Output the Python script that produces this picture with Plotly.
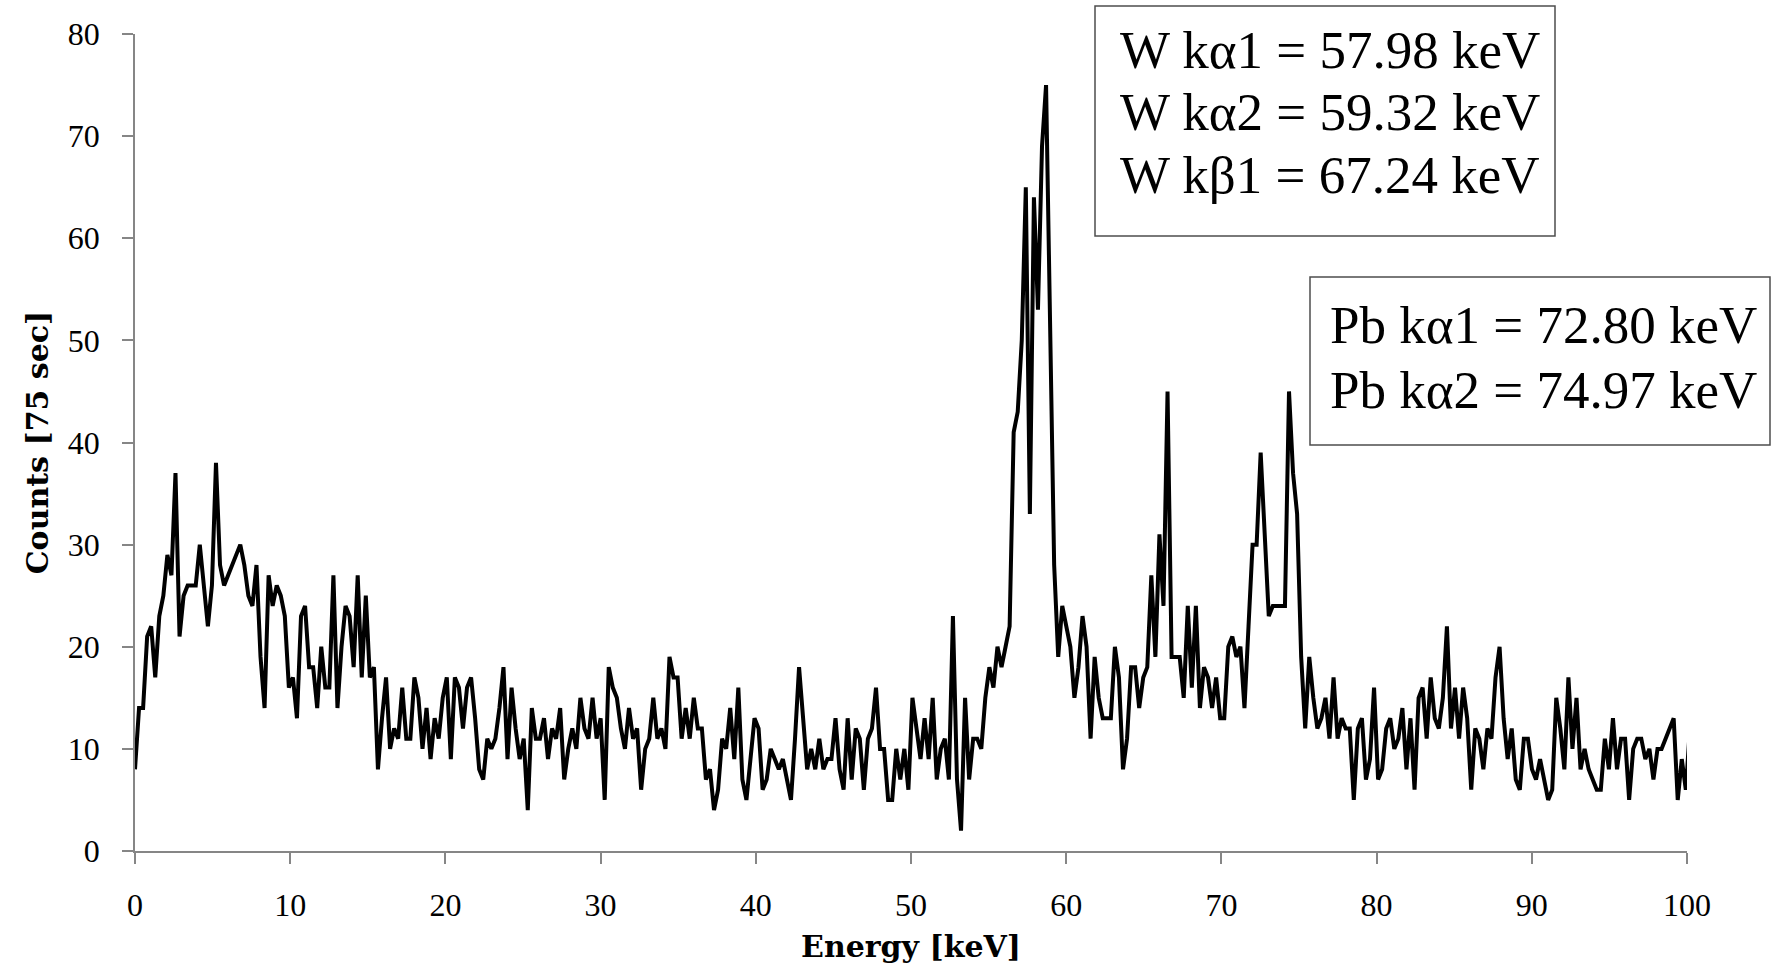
import plotly.graph_objects as go

# ---------------- data ----------------
KEV_PER_CHANNEL = 0.2609  # detector calibration (channel width in keV)

counts = [
    8, 14, 14, 21, 22, 17, 23, 25, 29, 27, 37, 21, 25, 26, 26, 26, 30, 26, 22, 26,
    38, 28, 26, 27, 28, 29, 30, 28, 25, 24, 28, 19, 14, 27, 24, 26, 25, 23, 16, 17,
    13, 23, 24, 18, 18, 14, 20, 16, 16, 27, 14, 20, 24, 23, 18, 27, 17, 25, 17, 18,
    8, 13, 17, 10, 12, 11, 16, 11, 11, 17, 15, 10, 14, 9, 13, 11, 15, 17, 9, 17,
    16, 12, 16, 17, 13, 8, 7, 11, 10, 11, 14, 18, 9, 16, 12, 9, 11, 4, 14, 11,
    11, 13, 9, 12, 11, 14, 7, 10, 12, 10, 15, 12, 11, 15, 11, 13, 5, 18, 16, 15,
    12, 10, 14, 11, 12, 6, 10, 11, 15, 11, 12, 10, 19, 17, 17, 11, 14, 11, 15, 12,
    12, 7, 8, 4, 6, 11, 10, 14, 9, 16, 7, 5, 9, 13, 12, 6, 7, 10, 9, 8,
    9, 7, 5, 11, 18, 13, 8, 10, 8, 11, 8, 9, 9, 13, 8, 6, 13, 7, 12, 11,
    6, 11, 12, 16, 10, 10, 5, 5, 10, 7, 10, 6, 15, 12, 9, 13, 9, 15, 7, 10,
    11, 7, 23, 7, 2, 15, 7, 11, 11, 10, 15, 18, 16, 20, 18, 20, 22, 41, 43, 50,
    65, 33, 64, 53, 69, 75, 52, 28, 19, 24, 22, 20, 15, 18, 23, 20, 11, 19, 15, 13,
    13, 13, 20, 17, 8, 11, 18, 18, 14, 17, 18, 27, 19, 31, 24, 45, 19, 19, 19, 15,
    24, 16, 24, 14, 18, 17, 14, 17, 13, 13, 20, 21, 19, 20, 14, 22, 30, 30, 39, 31,
    23, 24, 24, 24, 24, 45, 37, 33, 19, 12, 19, 15, 12, 13, 15, 11, 17, 11, 13, 12,
    12, 5, 12, 13, 7, 9, 16, 7, 8, 12, 13, 10, 11, 14, 8, 13, 6, 15, 16, 11,
    17, 13, 12, 15, 22, 12, 16, 11, 16, 13, 6, 12, 11, 8, 12, 11, 17, 20, 13, 9,
    12, 7, 6, 11, 11, 8, 7, 9, 7, 5, 6, 15, 12, 8, 17, 10, 15, 8, 10, 8,
    7, 6, 6, 11, 8, 13, 8, 11, 11, 5, 10, 11, 11, 9, 10, 7, 10, 10, 11, 12,
    13, 5, 9, 6, 12,
]
energy_kev = [round(i * KEV_PER_CHANNEL, 4) for i in range(len(counts))]

x_tick_vals = [0, 10, 20, 30, 40, 50, 60, 70, 80, 90, 100]
y_tick_vals = [0, 10, 20, 30, 40, 50, 60, 70, 80]

w_lines = ["W kα1 = 57.98 keV", "W kα2 = 59.32 keV", "W kβ1 = 67.24 keV"]
pb_lines = ["Pb kα1 = 72.80 keV", "Pb kα2 = 74.97 keV"]

x_title = "Energy [keV]"
y_title = "Counts [75 sec]"

# ---------------- layout geometry (pixels) ----------------
W, H = 1779, 973
L, R, T, B = 135, 92, 34, 122
PW = W - L - R
PH = H - T - B


def px(xp):
    return (xp - L) / PW


def py(yp):
    return (H - B - yp) / PH


TEXT_FONT = "Liberation Serif, Times New Roman, serif"
TITLE_FONT = "DejaVu Serif, Liberation Serif, serif"
AXIS_GRAY = "#868686"

fig = go.Figure()
fig.add_trace(
    go.Scatter(
        x=energy_kev,
        y=counts,
        mode="lines",
        line=dict(color="#000000", width=4),
        hoverinfo="x+y",
        showlegend=False,
    )
)

axis_common = dict(
    showgrid=False,
    zeroline=False,
    showline=True,
    linecolor=AXIS_GRAY,
    linewidth=1.6,
    ticks="outside",
    tickcolor=AXIS_GRAY,
    tickwidth=1.6,
    ticklen=11,
    tickfont=dict(family=TEXT_FONT, size=32, color="#000000"),
)

fig.update_layout(
    width=W,
    height=H,
    margin=dict(l=L, r=R, t=T, b=B, pad=0),
    paper_bgcolor="#ffffff",
    plot_bgcolor="#ffffff",
    xaxis=dict(
        range=[0, 100],
        tickvals=x_tick_vals,
        ticktext=[str(v) for v in x_tick_vals],
        ticklabelstandoff=14,
        title=dict(
            text="<b>" + x_title + "</b>",
            font=dict(family=TITLE_FONT, size=30, color="#000000"),
            standoff=14,
        ),
        **axis_common,
    ),
    yaxis=dict(
        range=[0, 80],
        tickvals=y_tick_vals,
        ticktext=[str(v) for v in y_tick_vals],
        ticklabelstandoff=16,
        title=dict(
            text="<b>" + y_title + "</b>",
            font=dict(family=TITLE_FONT, size=30, color="#000000"),
            standoff=10,
        ),
        **axis_common,
    ),
)

# annotation boxes
BOX_LINE = dict(color="#4d4d4d", width=1.5)
fig.add_shape(type="rect", xref="paper", yref="paper",
              x0=px(1095), x1=px(1555), y0=py(236), y1=py(6),
              line=BOX_LINE, fillcolor="#ffffff", layer="above")
fig.add_shape(type="rect", xref="paper", yref="paper",
              x0=px(1310), x1=px(1770), y0=py(445), y1=py(277),
              line=BOX_LINE, fillcolor="#ffffff", layer="above")

w_centers = [50, 112, 175]
for txt, yc in zip(w_lines, w_centers):
    fig.add_annotation(xref="paper", yref="paper", x=px(1118), y=py(yc),
                       xanchor="left", yanchor="middle", text=txt, showarrow=False,
                       font=dict(family=TEXT_FONT, size=53, color="#000000"))
pb_centers = [325, 390]
for txt, yc in zip(pb_lines, pb_centers):
    fig.add_annotation(xref="paper", yref="paper", x=px(1328), y=py(yc),
                       xanchor="left", yanchor="middle", text=txt, showarrow=False,
                       font=dict(family=TEXT_FONT, size=53, color="#000000"))

fig.write_html("out.html", config={"displayModeBar": False})
